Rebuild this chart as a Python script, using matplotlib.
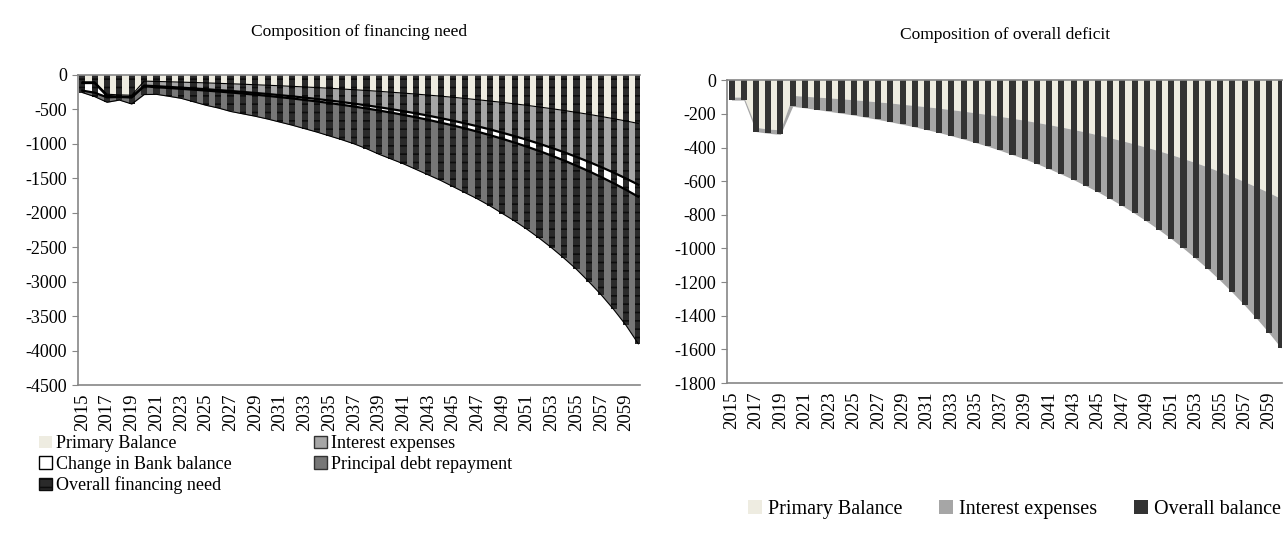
import numpy as np
import matplotlib.pyplot as plt
from matplotlib.patches import Patch

plt.rcParams['font.family'] = ['Liberation Serif', 'DejaVu Serif']
plt.rcParams['axes.unicode_minus'] = False
plt.rcParams['hatch.linewidth'] = 1.2

# Years
years = list(range(2015, 2061))

# Components (negative = outflow)
primary = [-100, -100, -280, -290, -295, -90, -95, -100, -105, -110, -116, -122, -129, -135, -143,
           -150, -158, -166, -175, -184, -194, -204, -215, -226, -238, -251, -264, -278, -293, -308,
           -325, -342, -360, -379, -399, -420, -442, -466, -490, -516, -544, -572, -603, -635, -668, -704]
interest = [-18, -18, -25, -25, -27, -65, -69, -74, -80, -86, -91, -98, -104, -112, -119,
            -127, -136, -145, -155, -166, -177, -189, -202, -216, -230, -245, -262, -280, -298, -319,
            -339, -362, -386, -412, -440, -469, -500, -533, -569, -606, -646, -689, -734, -782, -834, -888]
bank = [-110, -140, -20, -5, -5, -10, -15, -16, -17, -18, -20, -21, -22, -24, -25,
        -27, -29, -31, -33, -35, -37, -40, -42, -45, -48, -51, -54, -57, -61, -65,
        -69, -73, -78, -83, -88, -94, -100, -106, -113, -120, -128, -136, -145, -154, -164, -175]
principal = [-28, -57, -72, -45, -95, -120, -103, -120, -138, -176, -213, -239, -275, -294, -313,
             -336, -362, -388, -417, -445, -477, -507, -541, -583, -634, -673, -710, -755, -798, -838,
             -887, -933, -976, -1026, -1083, -1137, -1198, -1265, -1338, -1418, -1502, -1603, -1708, -1829, -1964, -2133]
financing_need = [-256, -315, -397, -365, -422, -285, -282, -310, -340, -390, -440, -480, -530, -565, -600,
                  -640, -685, -730, -780, -830, -885, -940, -1000, -1070, -1150, -1220, -1290, -1370, -1450, -1530,
                  -1620, -1710, -1800, -1900, -2010, -2120, -2240, -2370, -2510, -2660, -2820, -3000, -3190, -3400, -3630, -3900]
overall_balance = [-118, -118, -305, -315, -322, -155, -164, -174, -185, -196, -207, -220, -233, -247, -262,
                   -277, -294, -311, -330, -350, -371, -393, -417, -442, -468, -496, -526, -558, -591, -627,
                   -664, -704, -746, -791, -839, -889, -942, -999, -1059, -1122, -1190, -1261, -1337, -1417, -1502, -1592]

c_primary = '#eeece1'
c_interest = '#a6a6a6'
c_principal = '#777777'
c_bar = '#333333'

x = np.arange(len(years))
tick_pos = x[::2]
tick_lab = [str(y) for y in years[::2]]

fig = plt.figure(figsize=(12.85, 5.35), dpi=100)

# ---- left: financing need ----
ax1 = fig.add_axes([0.0607, 0.280, 0.437, 0.580])
s1 = np.array(primary, float)
s2 = s1 + np.array(interest)
s3 = s2 + np.array(bank)
s4 = s3 + np.array(principal)
ax1.fill_between(x, 0, s1, color=c_primary, lw=0, zorder=1)
ax1.fill_between(x, s1, s2, color=c_interest, lw=0, zorder=1)
ax1.fill_between(x, s2, s3, color='white', lw=0, zorder=1)
ax1.fill_between(x, s3, s4, color=c_principal, lw=0, zorder=1)
ax1.bar(x, financing_need, width=0.5, color='#2a2a2a', edgecolor='#0d0d0d', hatch='--', lw=0, zorder=2)
ax1.plot(x, s1, color='black', lw=0.8, zorder=3)
ax1.plot(x, s2, color='black', lw=1.6, zorder=3)
ax1.plot(x, s3, color='black', lw=1.6, zorder=3)
ax1.plot(x, s4, color='black', lw=0.8, zorder=3)
ax1.set_ylim(-4500, 0)
ax1.set_yticks(np.arange(-4500, 1, 500))
ax1.set_xlim(-0.35, 45.1)
ax1.set_xticks(tick_pos)
ax1.set_xticklabels(tick_lab, rotation=90)
ax1.set_title('Composition of financing need', fontsize=12.5, pad=28)

# ---- right: overall deficit ----
ax2 = fig.add_axes([0.566, 0.284, 0.432, 0.566])
d1 = np.array(primary, float)
ax2.fill_between(x, 0, d1, color=c_primary, lw=0, zorder=1)
ax2.fill_between(x, d1, overall_balance, color=c_interest, lw=0, zorder=1)
ax2.bar(x, overall_balance, width=0.5, color=c_bar, lw=0, zorder=2)
ax2.set_ylim(-1800, 0)
ax2.set_yticks(np.arange(-1800, 1, 200))
ax2.set_xlim(-0.35, 45.1)
ax2.set_xticks(tick_pos)
ax2.set_xticklabels(tick_lab, rotation=90)
ax2.set_title('Composition of overall deficit', fontsize=12.5, pad=30)

for ax in (ax1, ax2):
    ax.spines['right'].set_visible(False)
    for s in ('left', 'bottom', 'top'):
        ax.spines[s].set_color('#868686')
        ax.spines[s].set_linewidth(1.2)
    ax.tick_params(axis='y', labelsize=13, length=4, color='#868686', pad=4)
    ax.tick_params(axis='x', labelsize=13.5, length=0, pad=6)

# legends (row-wise order as in the original)
h1 = [Patch(facecolor=c_primary, edgecolor='none', label='Primary Balance'),
      Patch(facecolor='white', edgecolor='black', label='Change in Bank balance'),
      Patch(facecolor='#2a2a2a', edgecolor='#0d0d0d', hatch='--', label='Overall financing need'),
      Patch(facecolor=c_interest, edgecolor='#333333', label='Interest expenses'),
      Patch(facecolor=c_principal, edgecolor='#333333', label='Principal debt repayment')]
fig.legend(handles=h1, loc='upper left', bbox_to_anchor=(0.025, 0.2), ncol=2, frameon=False,
           fontsize=13, handlelength=0.7, handleheight=0.7, handletextpad=0.2,
           columnspacing=4.6, labelspacing=0.2, borderaxespad=0)

h2 = [Patch(facecolor=c_primary, edgecolor='none', label='Primary Balance'),
      Patch(facecolor=c_interest, edgecolor='none', label='Interest expenses'),
      Patch(facecolor=c_bar, edgecolor='none', label='Overall balance')]
fig.legend(handles=h2, loc='upper left', bbox_to_anchor=(0.576, 0.08), ncol=3, frameon=False,
           fontsize=14.5, handlelength=0.7, handleheight=0.7, handletextpad=0.3,
           columnspacing=1.8, borderaxespad=0)

fig.savefig('out.png', dpi=100)
